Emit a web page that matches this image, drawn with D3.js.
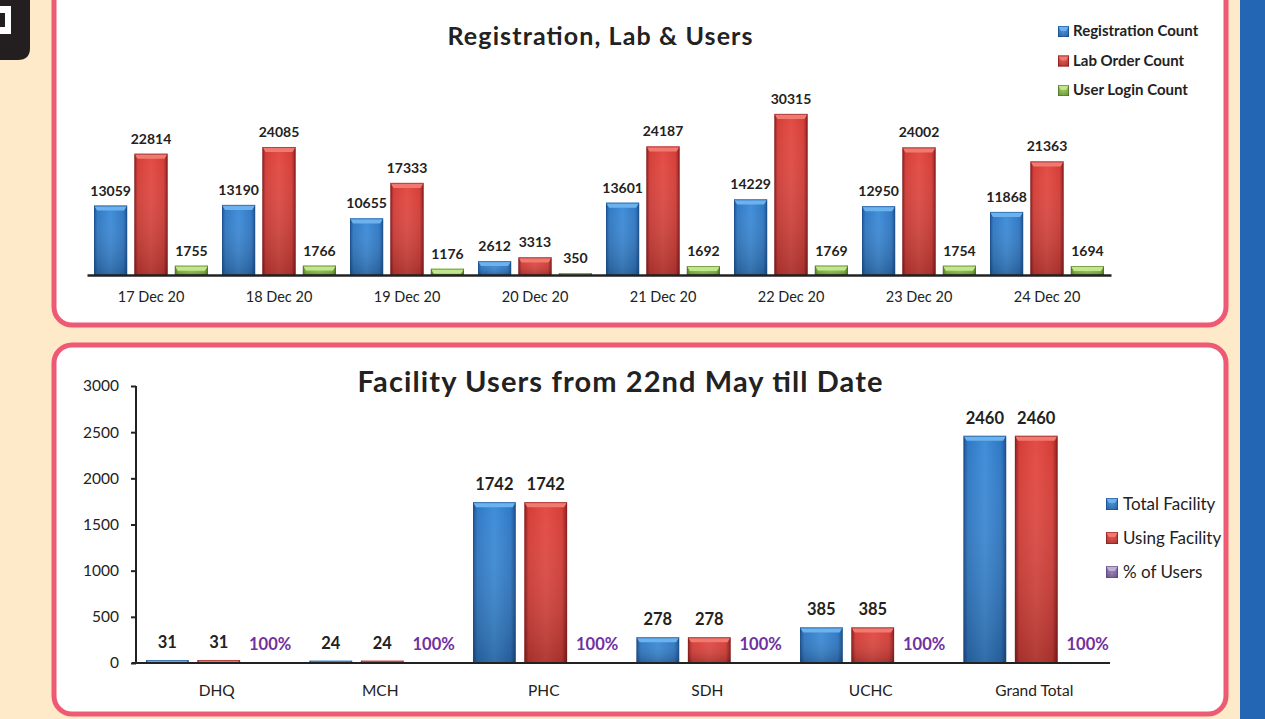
<!DOCTYPE html>
<html><head><meta charset="utf-8">
<script src="https://cdn.jsdelivr.net/npm/d3@7"></script>
<style>html,body{margin:0;padding:0;background:#FEE9C8;overflow:hidden}svg{display:block}</style>
</head><body>
<svg id="c" width="1265" height="719"></svg>
<script>
// ---- data ----
const dates = ["17 Dec 20","18 Dec 20","19 Dec 20","20 Dec 20","21 Dec 20","22 Dec 20","23 Dec 20","24 Dec 20"];
const topSeries = ["Registration Count","Lab Order Count","User Login Count"];
const registration = [13059,13190,10655,2612,13601,14229,12950,11868];
const labOrders = [22814,24085,17333,3313,24187,30315,24002,21363];
const userLogins = [1755,1766,1176,350,1692,1769,1754,1694];

const facilities = ["DHQ","MCH","PHC","SDH","UCHC","Grand Total"];
const botSeries = ["Total Facility","Using Facility","% of Users"];
const totalFacility = [31,24,1742,278,385,2460];
const usingFacility = [31,24,1742,278,385,2460];
const pctUsers = [1,1,1,1,1,1];
const yTicks = [0,500,1000,1500,2000,2500,3000];

const FONT = "Lato, 'Open Sans', sans-serif";
const svg = d3.select("#c");
const defs = svg.append("defs");

const palettes = {
  blue:  {dark:"#1b4f8c", mid:"#2f78c4", light:"#3f8dd8", top:"#6bb2ee"},
  red:   {dark:"#8a1c1c", mid:"#d53d37", light:"#e24c45", top:"#f07a70"},
  green: {dark:"#4d7424", mid:"#86b845", light:"#98c955", top:"#c2e68a"},
  purple:{dark:"#5e4785", mid:"#8064a2", light:"#9a82bb", top:"#bfaed6"}
};
Object.entries(palettes).forEach(([k,p])=>{
  const g = defs.append("linearGradient").attr("id","g_"+k).attr("x1","0").attr("x2","1").attr("y1","0").attr("y2","0");
  g.append("stop").attr("offset","0").attr("stop-color",p.dark);
  g.append("stop").attr("offset","0.1").attr("stop-color",p.mid);
  g.append("stop").attr("offset","0.5").attr("stop-color",p.light);
  g.append("stop").attr("offset","0.88").attr("stop-color",p.mid);
  g.append("stop").attr("offset","1").attr("stop-color",p.dark);
  const v = defs.append("linearGradient").attr("id","v_"+k).attr("x1","0").attr("x2","0").attr("y1","0").attr("y2","1");
  v.append("stop").attr("offset","0").attr("stop-color","#fff").attr("stop-opacity",0);
  v.append("stop").attr("offset","1").attr("stop-color","#000").attr("stop-opacity",0.22);
});

function bar3d(g, x, y, w, h, pal){
  if(h<=0) return;
  const p = palettes[pal];
  g.append("rect").attr("x",x).attr("y",y).attr("width",w).attr("height",h).attr("fill","url(#g_"+pal+")");
  g.append("rect").attr("x",x).attr("y",y).attr("width",w).attr("height",h).attr("fill","url(#v_"+pal+")");
  const b = Math.min(5, h);
  g.append("path").attr("d",`M${x},${y}L${x+w},${y}L${x+w-3},${y+b}L${x+3},${y+b}Z`).attr("fill",p.top);
  g.append("rect").attr("x",x+0.5).attr("y",y+0.5).attr("width",w-1).attr("height",Math.max(0,h-1)).attr("fill","none").attr("stroke",p.dark).attr("stroke-width",1).attr("stroke-opacity",0.6);
}

// background decor
svg.append("rect").attr("x",1240).attr("y",0).attr("width",25).attr("height",719).attr("fill","#2366B4");
svg.append("path").attr("d","M0,0H30V48Q30,60 18,60H0Z").attr("fill","#231f20");
svg.append("path").attr("d","M0,6H11V34H0V27H5V13H0Z").attr("fill","#fff");

// panels
svg.append("rect").attr("x",54).attr("y",-20).attr("width",1172).attr("height",345).attr("rx",18).attr("fill","#fff").attr("stroke","#EE5A74").attr("stroke-width",5);
svg.append("rect").attr("x",54).attr("y",345).attr("width",1172).attr("height",369).attr("rx",18).attr("fill","#fff").attr("stroke","#EE5A74").attr("stroke-width",5);

// ---------- top chart ----------
const gTop = svg.append("g");
const x0 = d3.scaleBand().domain(dates).range([87,1111]).paddingInner(0).paddingOuter(0);
const x1 = d3.scaleBand().domain(topSeries).range([7,x0.bandwidth()-7]).paddingInner(0.18).paddingOuter(0);
const yT = d3.scaleLinear().domain([0,35000]).range([275,89]);
const topData = [registration,labOrders,userLogins];
const topPal = ["blue","red","green"];
dates.forEach((d,i)=>{
  topSeries.forEach((s,j)=>{
    const v = topData[j][i];
    const x = x0(d)+x1(s), w = x1.bandwidth();
    bar3d(gTop, x, yT(v), w, yT(0)-yT(v), topPal[j]);
    gTop.append("text").attr("x",x+w/2).attr("y",yT(v)-10).attr("text-anchor","middle")
      .attr("font-family",FONT).attr("font-weight","bold").attr("font-size",14).attr("fill","#222").text(v);
  });
});
const axT = gTop.append("g").attr("transform","translate(0,275)").call(d3.axisBottom(x0).tickSize(0).tickPadding(17));
axT.select(".domain").attr("stroke","#222").attr("stroke-width",2.5);
axT.selectAll("text").attr("font-family",FONT).attr("font-size",14.5).attr("fill","#222");
gTop.append("text").attr("x",600).attr("y",45).attr("text-anchor","middle").attr("font-family",FONT).attr("font-weight","bold").attr("font-size",25)
  .attr("textLength",305).attr("lengthAdjust","spacing").attr("fill","#222").text("Registration, Lab & Users");
const legT = gTop.append("g");
topSeries.forEach((s,j)=>{
  const yy = 31 + j*29.5;
  bar3d(legT, 1058, yy-5, 11, 11, topPal[j]);
  legT.append("text").attr("x",1073).attr("y",yy+5).attr("font-family",FONT).attr("font-weight","bold").attr("font-size",15).attr("fill","#222").text(s);
});

// ---------- bottom chart ----------
const gBot = svg.append("g");
const bx0 = d3.scaleBand().domain(facilities).range([135,1116]);
const bx1 = d3.scaleBand().domain(botSeries).range([11,bx0.bandwidth()-7]).paddingInner(0.17).paddingOuter(0);
const yB = d3.scaleLinear().domain([0,3000]).range([663,386]);
const botData = [totalFacility,usingFacility,pctUsers];
const botPal = ["blue","red","purple"];
facilities.forEach((f,i)=>{
  botSeries.forEach((s,j)=>{
    const v = botData[j][i];
    const x = bx0(f)+bx1(s), w = bx1.bandwidth();
    if(j<2){
      bar3d(gBot, x, yB(v), w, yB(0)-yB(v), botPal[j]);
      gBot.append("text").attr("x",x+w/2).attr("y",yB(v)-12).attr("text-anchor","middle")
        .attr("font-family",FONT).attr("font-weight","bold").attr("font-size",16.5).attr("fill","#222").text(v);
    } else {
      gBot.append("text").attr("x",x+w/2).attr("y",yB(v)-13).attr("text-anchor","middle")
        .attr("font-family",FONT).attr("font-weight","bold").attr("font-size",16.5).attr("fill","#7030A0").text(d3.format(".0%")(v));
    }
  });
});
const ayB = gBot.append("g").attr("transform","translate(136,0)").call(d3.axisLeft(yB).tickValues(yTicks).tickSize(5).tickPadding(12).tickFormat(d3.format("d")));
ayB.select(".domain").attr("stroke","#222").attr("stroke-width",2).attr("d","M0,386V663");
ayB.selectAll(".tick line").attr("stroke","#222").attr("stroke-width",2);
ayB.selectAll("text").attr("font-family",FONT).attr("font-size",15.5).attr("fill","#222");
const axB = gBot.append("g").attr("transform","translate(0,663)").call(d3.axisBottom(bx0).tickSize(0).tickPadding(22));
axB.select(".domain").attr("stroke","#222").attr("stroke-width",2).attr("d","M132,0H1110");
axB.selectAll("text").attr("font-family",FONT).attr("font-size",15.5).attr("fill","#222");
gBot.append("text").attr("x",620).attr("y",392).attr("text-anchor","middle").attr("font-family",FONT).attr("font-weight","bold").attr("font-size",29)
  .attr("textLength",525).attr("lengthAdjust","spacing").attr("fill","#222").text("Facility Users from 22nd May till Date");
const legB = gBot.append("g");
botSeries.forEach((s,j)=>{
  const yy = 504 + j*34;
  bar3d(legB, 1106, yy-6, 12, 12, botPal[j]);
  legB.append("text").attr("x",1123).attr("y",yy+6).attr("font-family",FONT).attr("font-size",17).attr("fill","#222").text(s);
});
</script>
</body></html>
